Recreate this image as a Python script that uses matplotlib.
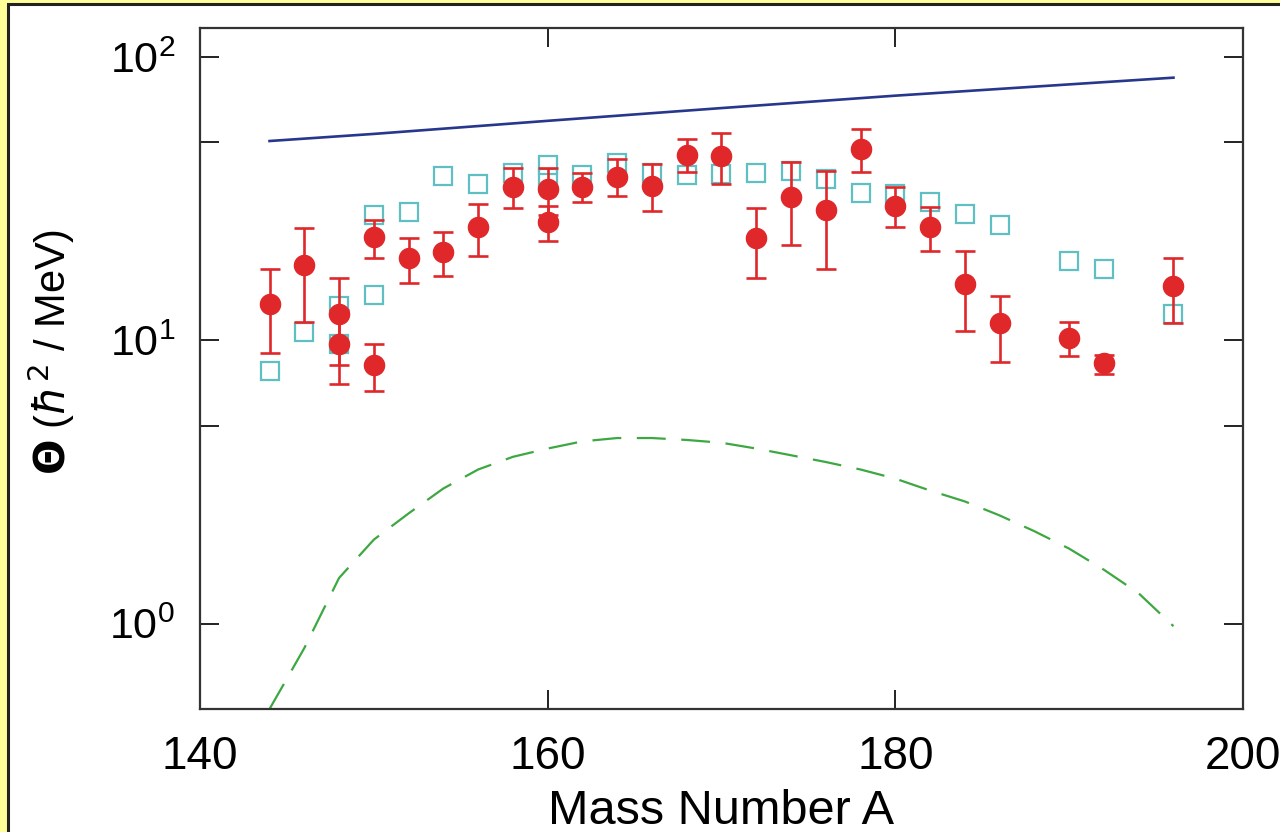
import matplotlib
matplotlib.use("Agg")
import matplotlib.pyplot as plt
from matplotlib.patches import Rectangle
from matplotlib.ticker import FixedLocator, FixedFormatter, NullLocator

plt.rcParams['font.family'] = ['Liberation Sans', 'DejaVu Sans']
plt.rcParams['mathtext.fontset'] = 'dejavusans'

# ---- Data ----
# Experimental moments of inertia (red filled circles with error bars)
exp_A = [144, 146, 148, 148, 150, 150, 152, 154, 156, 158, 160, 160, 162, 164,
         166, 168, 170, 172, 174, 176, 178, 180, 182, 184, 186, 190, 192, 196]
exp_val = [13.4, 18.4, 12.4, 9.7, 23.1, 8.2, 19.5, 20.5, 25.1, 34.7, 34.2, 26.1, 34.7, 37.7,
           35.0, 45.1, 44.7, 22.9, 32.0, 28.8, 47.3, 29.7, 25.1, 15.8, 11.5, 10.2, 8.3, 15.5]
exp_hi = [17.9, 25.0, 16.6, 12.8, 26.6, 9.7, 22.9, 24.1, 30.3, 40.6, 40.6, 29.7, 38.9, 43.6,
          41.9, 51.3, 53.8, 29.2, 42.5, 39.5, 55.7, 34.7, 29.5, 20.6, 14.3, 11.6, 8.9, 19.5]
exp_lo = [9.0, 11.6, 8.2, 7.0, 19.5, 6.65, 15.9, 16.8, 19.8, 29.2, 27.7, 22.5, 30.8, 32.3,
          28.6, 39.3, 35.6, 16.6, 21.7, 17.9, 39.3, 25.1, 20.6, 10.8, 8.4, 8.8, 7.6, 11.5]

# Calculated values (open cyan squares)
calc_A = [144, 146, 148, 148, 150, 150, 152, 154, 156, 158, 160, 160, 162, 164, 166,
          168, 170, 172, 174, 176, 178, 180, 182, 184, 186, 190, 192, 196]
calc_val = [7.8, 10.7, 13.2, 9.7, 27.7, 14.4, 28.3, 38.0, 35.6, 38.9, 41.5, 37.5, 38.3, 42.2, 38.9,
            38.3, 38.6, 38.9, 39.5, 37.1, 33.0, 32.8, 30.8, 27.9, 25.5, 19.0, 17.9, 12.4]

# Rigid-body estimate (blue solid line)
rigid_A = [144, 150, 160, 170, 180, 190, 196]
rigid_val = [50.5, 53.5, 59.5, 66.0, 73.0, 80.0, 84.5]

# Irrotational-flow estimate (green dashed line)
irrot_A = [144, 145, 146, 148, 150, 152, 154, 156, 158, 160, 162, 164, 166, 168, 170,
           172, 174, 176, 178, 180, 182, 184, 186, 188, 190, 192, 194, 196]
irrot_val = [0.5, 0.64, 0.82, 1.45, 1.98, 2.45, 3.0, 3.5, 3.88, 4.15, 4.4, 4.52, 4.52, 4.45, 4.35,
             4.15, 3.93, 3.72, 3.5, 3.25, 2.95, 2.7, 2.41, 2.12, 1.84, 1.55, 1.28, 0.98]

x_ticks = [140, 160, 180, 200]
y_ticks = [1, 10, 100]
y_ticklabels = [r'$\mathregular{10^{0}}$', r'$\mathregular{10^{1}}$', r'$\mathregular{10^{2}}$']

# ---- Figure ----
fig = plt.figure(figsize=(12.8, 8.32), dpi=100)
fig.patch.set_facecolor('#FFFF99')
fig.patches.append(Rectangle((8 / 1280, -0.05), 1.2, 1 - 4 / 832 + 0.05,
                             transform=fig.transFigure, facecolor='white',
                             edgecolor='#222222', linewidth=2.2, zorder=-10))

ax = fig.add_axes([200 / 1280, 1 - 709 / 832, (1243 - 200) / 1280, (709 - 28) / 832])
ax.set_yscale('log')
ax.set_xlim(140, 200)
ax.set_ylim(0.5, 126.5)

red = '#E0282B'
cyan = '#5FBFC3'

ax.plot(calc_A, calc_val, linestyle='none', marker='s', markersize=13,
        markerfacecolor='none', markeredgecolor=cyan, markeredgewidth=1.6, zorder=2)

yerr_low = [v - lo for v, lo in zip(exp_val, exp_lo)]
yerr_high = [hi - v for v, hi in zip(exp_val, exp_hi)]
ax.errorbar(exp_A, exp_val, yerr=[yerr_low, yerr_high], fmt='o', color=red,
            markersize=14.5, elinewidth=1.9, capsize=7, capthick=1.9, zorder=3)

ax.plot(rigid_A, rigid_val, color='#26378C', linewidth=1.9, zorder=2)
ax.plot(irrot_A, irrot_val, color='#3DA842', linewidth=1.6, dashes=(13, 7), zorder=2)

# ticks
ax.xaxis.set_major_locator(FixedLocator(x_ticks))
ax.xaxis.set_minor_locator(NullLocator())
ax.yaxis.set_major_locator(FixedLocator(y_ticks))
ax.yaxis.set_major_formatter(FixedFormatter(y_ticklabels))
ax.yaxis.set_minor_locator(FixedLocator([5, 50]))
ax.yaxis.set_minor_formatter(FixedFormatter(['', '']))
ax.tick_params(which='both', direction='in', top=True, right=True, color='#222222', width=1.4)
ax.tick_params(which='major', length=14)
ax.tick_params(which='minor', length=14)
ax.tick_params(axis='x', labelsize=33, pad=19)
ax.tick_params(axis='y', labelsize=31, pad=18)
for sp in ax.spines.values():
    sp.set_linewidth(1.6)
    sp.set_color('#333333')

ax.set_xlabel('Mass Number A', fontsize=35, labelpad=7)
ax.set_ylabel(r'$\mathbf{\Theta}$ ($\hbar^2$ / MeV)', fontsize=30)
ax.yaxis.set_label_coords(-0.118, 0.525)

fig.savefig('out.png', dpi=100, facecolor=fig.get_facecolor())
